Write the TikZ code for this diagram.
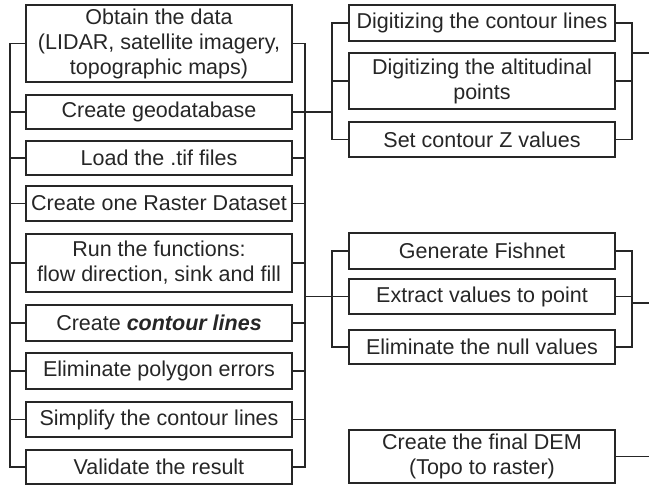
\documentclass[tikz,border=0pt]{standalone}
\usepackage{fontspec}
\setmainfont{Liberation Sans}
\definecolor{ink}{HTML}{262626}
\begin{document}
\begin{tikzpicture}[x=1pt,y=-1pt,
  box/.style={draw=ink, text=ink, line width=1.3pt, minimum width=266pt,
    inner sep=0pt, align=center, font=\fontsize{21.5}{25}\selectfont},
  wire/.style={draw=ink, line width=1.3pt}]
\fill[white] (0,0) rectangle (649,485);
\useasboundingbox (0,0) rectangle (649,485);

% main column of steps
\node[box, minimum height=77pt] (m1) at (159,43.5) {Obtain the data\\(LIDAR, satellite imagery,\\topographic maps)};
\node[box, minimum height=34pt] (m2) at (159,112) {Create geodatabase};
\node[box, minimum height=34pt] (m3) at (159,158) {Load the .tif files};
\node[box, minimum height=35pt] (m4) at (159,203.5) {Create one Raster Dataset};
\node[box, minimum height=58pt] (m5) at (159,263) {Run the functions:\\flow direction, sink and fill};
\node[box, minimum height=36pt] (m6) at (159,323) {Create \textbf{\textit{contour lines}}};
\node[box, minimum height=36pt] (m7) at (159,371) {Eliminate polygon errors};
\node[box, minimum height=35pt] (m8) at (159,419.5) {Simplify the contour lines};
\node[box, minimum height=34pt] (m9) at (159,467) {Validate the result};

% first branch
\node[box, minimum height=36pt] (r1) at (482,23) {Digitizing the contour lines};
\node[box, minimum height=56pt] (r2) at (482,81) {Digitizing the altitudinal\\points};
\node[box, minimum height=35pt] (r3) at (482,139.5) {Set contour Z values};

% second branch
\node[box, minimum height=36pt] (r4) at (482,251) {Generate Fishnet};
\node[box, minimum height=35pt] (r5) at (482,296.5) {Extract values to point};
\node[box, minimum height=34pt] (r6) at (482,347) {Eliminate the null values};

% final step
\node[box, minimum height=53pt] (r7) at (482,456.5) {Create the final DEM\\(Topo to raster)};

% bus positions
\coordinate (lb) at (10,0);
\coordinate (rb) at (305,0);
\coordinate (glb) at (332,0);
\coordinate (grb) at (632,0);
\coordinate (o1) at (649,53);
\coordinate (o2) at (649,303);
\coordinate (o3) at (649,456.5);

% main column buses
\draw[wire] (m1.west) -- (m1.west -| lb) -- (m9.west -| lb) -- (m9.west);
\draw[wire] (m1.east) -- (m1.east -| rb) -- (m9.east -| rb) -- (m9.east);
\foreach \n in {m2,m3,m4,m5,m6,m7,m8} {
  \draw[wire] (\n.west) -- (\n.west -| lb);
  \draw[wire] (\n.east) -- (\n.east -| rb);
}

% first branch buses
\draw[wire] (m2.east -| rb) -- (m2.east -| glb);
\draw[wire] (r1.west) -- (r1.west -| glb) -- (r3.west -| glb) -- (r3.west);
\draw[wire] (r2.west) -- (r2.west -| glb);
\draw[wire] (r1.east) -- (r1.east -| grb) -- (r3.east -| grb) -- (r3.east);
\draw[wire] (r2.east) -- (r2.east -| grb);
\draw[wire] (o1 -| grb) -- (o1);

% second branch buses
\draw[wire] (r5.west -| rb) -- (r5.west);
\draw[wire] (r4.west) -- (r4.west -| glb) -- (r6.west -| glb) -- (r6.west);
\draw[wire] (r4.east) -- (r4.east -| grb) -- (r6.east -| grb) -- (r6.east);
\draw[wire] (r5.east) -- (r5.east -| grb);
\draw[wire] (o2 -| grb) -- (o2);

% final step output
\draw[wire] (r7.east) -- (o3);
\end{tikzpicture}
\end{document}
